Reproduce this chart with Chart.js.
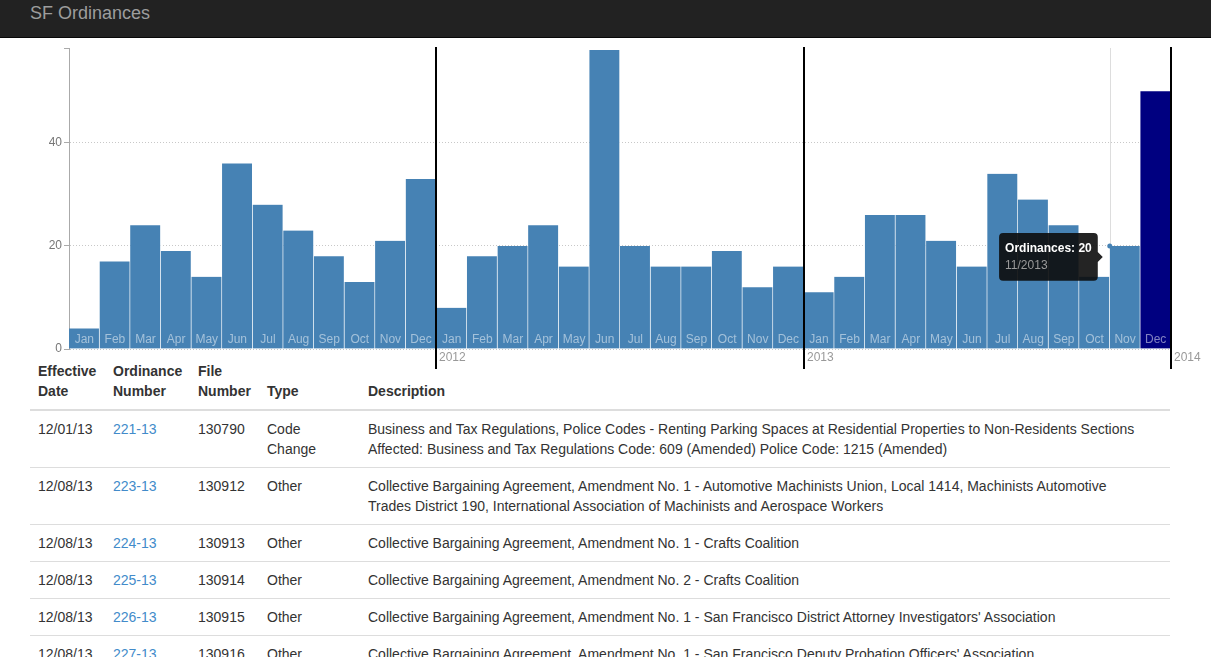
<!DOCTYPE html>
<html>
<head>
<meta charset="utf-8">
<script src="https://cdn.jsdelivr.net/npm/chart.js@4/dist/chart.umd.min.js"></script>
<style>
  body { margin: 0; background: #fff; font-family: "Liberation Sans", Arial, sans-serif; color: #333; width: 1211px; height: 657px; overflow: hidden; position: relative; }
  .navbar { position: absolute; left: 0; top: 0; width: 1211px; height: 37px; background: #222; border-bottom: 1px solid #080808; }
  .brand { position: absolute; left: 30px; top: 2px; font-size: 18px; line-height: 22px; color: #9d9d9d; }
  #chartBox { position: absolute; left: 0; top: 38px; width: 1211px; height: 335px; z-index: 2; pointer-events: none; }
  table { position: absolute; left: 30px; top: 353px; width: 1140px; border-collapse: collapse; table-layout: fixed; font-size: 14px; line-height: 20px; }
  th, td { padding: 8px; text-align: left; vertical-align: top; white-space: nowrap; }
  th { vertical-align: bottom; border-bottom: 2px solid #ddd; font-weight: bold; }
  td { border-bottom: 1px solid #ddd; }
  a { color: #428bca; text-decoration: none; }
</style>
</head>
<body>
<div class="navbar"><span class="brand">SF Ordinances</span></div>
<div id="chartBox"><canvas id="ordChart"></canvas></div>

<table>
  <colgroup><col style="width:75px"><col style="width:85px"><col style="width:69px"><col style="width:101px"><col></colgroup>
  <thead>
    <tr><th>Effective<br>Date</th><th>Ordinance<br>Number</th><th>File<br>Number</th><th>Type</th><th>Description</th></tr>
  </thead>
  <tbody>
    <tr><td>12/01/13</td><td><a href="#">221-13</a></td><td>130790</td><td>Code<br>Change</td><td>Business and Tax Regulations, Police Codes - Renting Parking Spaces at Residential Properties to Non-Residents Sections<br>Affected: Business and Tax Regulations Code: 609 (Amended) Police Code: 1215 (Amended)</td></tr>
    <tr><td>12/08/13</td><td><a href="#">223-13</a></td><td>130912</td><td>Other</td><td>Collective Bargaining Agreement, Amendment No. 1 - Automotive Machinists Union, Local 1414, Machinists Automotive<br>Trades District 190, International Association of Machinists and Aerospace Workers</td></tr>
    <tr><td>12/08/13</td><td><a href="#">224-13</a></td><td>130913</td><td>Other</td><td>Collective Bargaining Agreement, Amendment No. 1 - Crafts Coalition</td></tr>
    <tr><td>12/08/13</td><td><a href="#">225-13</a></td><td>130914</td><td>Other</td><td>Collective Bargaining Agreement, Amendment No. 2 - Crafts Coalition</td></tr>
    <tr><td>12/08/13</td><td><a href="#">226-13</a></td><td>130915</td><td>Other</td><td>Collective Bargaining Agreement, Amendment No. 1 - San Francisco District Attorney Investigators' Association</td></tr>
    <tr><td>12/08/13</td><td><a href="#">227-13</a></td><td>130916</td><td>Other</td><td>Collective Bargaining Agreement, Amendment No. 1 - San Francisco Deputy Probation Officers' Association</td></tr>
  </tbody>
</table>

<script>
// Ordinances per month, 2011 - 2013
var months = ['Jan', 'Feb', 'Mar', 'Apr', 'May', 'Jun', 'Jul', 'Aug', 'Sep', 'Oct', 'Nov', 'Dec'];
var years = [2011, 2012, 2013];
var yearTicks = ['2012', '2013', '2014'];
var counts2011 = [4, 17, 24, 19, 14, 36, 28, 23, 18, 13, 21, 33];
var counts2012 = [8, 18, 20, 24, 16, 58, 20, 16, 16, 19, 12, 16];
var counts2013 = [11, 14, 26, 26, 21, 16, 34, 29, 24, 14, 20, 50];
var yTicks = [0, 20, 40];
var yMax = 58.4;
var selectedIndex = 35;   // Dec 2013, highlighted
var hoverIndex = 34;      // Nov 2013, tooltip

var labels = [];
years.forEach(function (y) {
    months.forEach(function (m) { labels.push(m); });
});
var values = counts2011.concat(counts2012, counts2013);
var colors = values.map(function (v, i) { return i === selectedIndex ? '#000080' : '#4682b4'; });

Chart.Tooltip.positioners.barLeft = function (items) {
    if (!items.length) return false;
    var el = items[0].element;
    return { x: el.x - el.width / 2, y: el.y + 11 };
};

// month names inside bars, year dividers, hover line
var overlay = {
    id: 'overlay',
    beforeDatasetsDraw: function (chart) {
        var ctx = chart.ctx, area = chart.chartArea;
        var el = chart.getDatasetMeta(0).data[hoverIndex];
        var hx = Math.round(el.x - el.width / 2) + 0.5;
        ctx.save();
        ctx.strokeStyle = '#dddddd';
        ctx.lineWidth = 1;
        ctx.beginPath();
        ctx.moveTo(hx, area.top);
        ctx.lineTo(hx, area.bottom);
        ctx.stroke();
        ctx.restore();
    },
    afterDatasetsDraw: function (chart) {
        var ctx = chart.ctx, area = chart.chartArea;
        var xs = chart.scales.x;
        var meta = chart.getDatasetMeta(0);
        ctx.save();
        ctx.font = '12px "Liberation Sans", Arial, sans-serif';
        ctx.textAlign = 'center';
        ctx.textBaseline = 'middle';
        ctx.fillStyle = 'rgba(255,255,255,0.5)';
        labels.forEach(function (lab, i) {
            ctx.fillText(lab, xs.getPixelForValue(i), area.bottom - 9);
        });

        // hover dot
        var el = meta.data[hoverIndex];
        ctx.fillStyle = '#4682b4';
        ctx.beginPath();
        ctx.arc(el.x - el.width / 2, el.y, 2.5, 0, Math.PI * 2);
        ctx.fill();

        // year dividers
        ctx.strokeStyle = '#000';
        ctx.lineWidth = 2;
        ctx.fillStyle = '#999';
        ctx.textAlign = 'left';
        yearTicks.forEach(function (yt, k) {
            var last = (k + 1) * 12 - 1;
            var b = meta.data[last];
            var x = Math.round(b.x + b.width / 2);
            ctx.beginPath();
            ctx.moveTo(x, area.top - 1);
            ctx.lineTo(x, area.bottom + 20);
            ctx.stroke();
            ctx.fillText(yt, x + 3, area.bottom + 9);
        });
        ctx.restore();
    }
};

var ctx = document.getElementById('ordChart').getContext('2d');
var ordChart = new Chart(ctx, {
    type: 'bar',
    data: {
        labels: labels,
        datasets: [{
            label: 'Ordinances',
            data: values,
            backgroundColor: colors,
            borderColor: 'rgba(255,255,255,0.75)',
            borderWidth: { top: 0, right: 1, bottom: 0, left: 0 },
            borderSkipped: false,
            barPercentage: 1,
            categoryPercentage: 1
        }]
    },
    options: {
        responsive: true,
        maintainAspectRatio: false,
        animation: false,
        events: [],
        layout: { padding: { top: 10, right: 40, bottom: 24, left: 0 } },
        plugins: {
            legend: { display: false },
            tooltip: {
                enabled: true,
                position: 'barLeft',
                xAlign: 'right',
                yAlign: 'center',
                backgroundColor: 'rgba(12,12,12,0.9)',
                titleColor: '#fff',
                titleFont: { family: '"Liberation Sans", Arial, sans-serif', size: 12, weight: 'bold' },
                titleMarginBottom: 3,
                bodyColor: '#9a9a9a',
                bodyFont: { family: '"Liberation Sans", Arial, sans-serif', size: 12 },
                padding: { x: 6, y: 8 },
                caretSize: 5,
                caretPadding: 7,
                cornerRadius: 4,
                displayColors: false,
                callbacks: {
                    title: function (items) { return 'Ordinances: ' + items[0].raw; },
                    label: function (item) {
                        var i = item.dataIndex;
                        return (i % 12 + 1) + '/' + years[Math.floor(i / 12)];
                    }
                }
            }
        },
        scales: {
            x: { display: false, offset: true },
            y: {
                min: 0,
                max: yMax,
                afterFit: function (scale) { scale.width = 69; },
                afterBuildTicks: function (scale) {
                    scale.ticks = yTicks.map(function (v) { return { value: v }; }).concat([{ value: yMax }]);
                },
                border: { display: true, color: '#aaa', dash: [1, 2] },
                grid: {
                    color: function (c) { return c.tick && c.tick.value === yMax ? 'rgba(0,0,0,0)' : '#c8c8c8'; },
                    tickColor: '#aaa',
                    tickLength: 5,
                    tickBorderDash: [],
                    drawOnChartArea: true
                },
                ticks: {
                    padding: 2,
                    color: '#777',
                    font: { family: '"Liberation Sans", Arial, sans-serif', size: 12 },
                    callback: function (v) { return yTicks.indexOf(v) >= 0 ? v : ''; }
                }
            }
        }
    },
    plugins: [overlay]
});

ordChart.tooltip.setActiveElements([{ datasetIndex: 0, index: hoverIndex }], { x: 0, y: 0 });
ordChart.update();
</script>
</body>
</html>
